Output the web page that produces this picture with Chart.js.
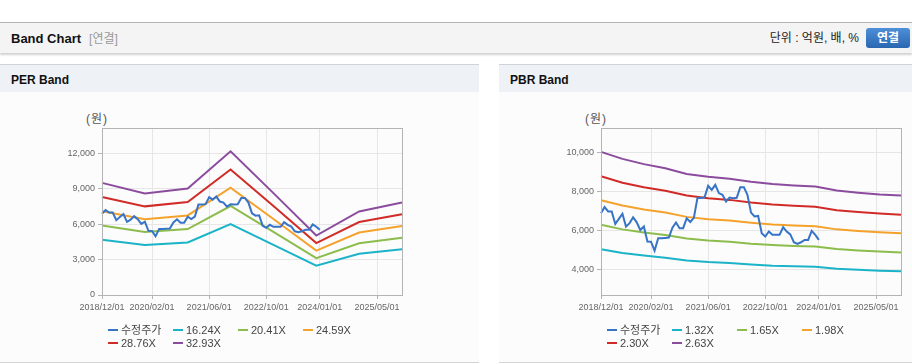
<!DOCTYPE html>
<html lang="ko">

<head>
    <meta charset="UTF-8">
    <title>Band Chart</title>
    <script src="https://cdn.jsdelivr.net/npm/chart.js"></script>
    <style>
        body {
            margin: 0;
            width: 912px;
            height: 364px;
            overflow: hidden;
            background: #fff;
            font-family: "Liberation Sans", "Noto Sans CJK KR", sans-serif;
            position: relative;
        }

        /* barra do topo */
        #topo {
            position: absolute;
            top: 22px;
            left: 0;
            width: 912px;
            height: 30px;
            border-top: 1px solid #b3b3b3;
            background: #f4f4f4;
            box-shadow: 0 2px 2px rgba(0, 0, 0, 0.18);
        }

        #topo .titulo {
            position: absolute;
            left: 11px;
            top: 0;
            line-height: 31px;
            font-size: 13px;
            font-weight: bold;
            color: #111;
        }

        #topo .titulo span {
            font-weight: normal;
            color: #999;
            font-size: 12px;
            margin-left: 8px;
        }

        #topo .unidade {
            position: absolute;
            right: 53px;
            top: 0;
            line-height: 31px;
            font-size: 12px;
            color: #222;
        }

        #topo .botao {
            position: absolute;
            left: 866px;
            top: 5px;
            width: 44px;
            height: 20px;
            line-height: 20px;
            text-align: center;
            border-radius: 3px;
            background: linear-gradient(#4d8fd8, #2b67b1);
            color: #fff;
            font-size: 12px;
            font-weight: bold;
        }

        .painel {
            position: absolute;
            top: 64px;
            height: 297px;
            border-top: 1px solid #cfd3d9;
            border-bottom: 1px solid #d5d5d5;
            background: #fcfcfc;
        }

        .painel h2 {
            margin: 0;
            height: 27px;
            line-height: 30px;
            padding-left: 11px;
            font-size: 12px;
            background: #eef1f6;
            color: #111;
        }

        .painel canvas {
            position: absolute;
            left: 0;
            top: 28px;
        }

        .won {
            position: absolute;
            left: 86px;
            top: 44px;
            font-size: 12px;
            letter-spacing: 1px;
            color: #555;
        }

        .legenda {
            position: absolute;
            left: 108px;
            top: 259px;
            width: 260px;
            display: grid;
            grid-template-columns: 65px 65px 65px 65px;
            font-size: 11px;
            color: #444;
        }

        .legenda div {
            height: 13px;
            line-height: 13px;
            white-space: nowrap;
        }

        .legenda i {
            display: inline-block;
            width: 10px;
            height: 2px;
            vertical-align: middle;
            margin-right: 3px;
            margin-top: -2px;
        }
    </style>
</head>

<body>
    <div id="topo">
        <div class="titulo">Band Chart<span>[연결]</span></div>
        <div class="unidade">단위 : 억원, 배, %</div>
        <div class="botao">연결</div>
    </div>

    <div class="painel" style="left:0; width:479px;">
        <h2>PER Band</h2>
        <div class="won">(원)</div>
        <canvas id="graficoPer" width="479" height="268"></canvas>
        <div class="legenda" id="legendaPer"></div>
    </div>

    <div class="painel" style="left:499px; width:413px;">
        <h2>PBR Band</h2>
        <div class="won">(원)</div>
        <canvas id="graficoPbr" width="413" height="268"></canvas>
        <div class="legenda" id="legendaPbr"></div>
    </div>

    <script>
        // rótulos do eixo X que aparecem no gráfico
        const xTickLabels = ['2018/12/01', '2020/02/01', '2021/06/01', '2022/10/01', '2024/01/01', '2025/05/01'];
        // valores do eixo Y
        const perYTicks = [0, 3000, 6000, 9000, 12000];
        const pbrYTicks = [4000, 6000, 8000, 10000];

        // preço ajustado mensal (2018/12 ~ 2024/01)
        const precoAjustado = [
            6890, 7200, 6980, 6980, 6340, 6600, 6860, 6200, 6380, 6680,
            6420, 6030, 6210, 5440, 5430, 4970, 5600, 5600, 5620, 5640,
            6150, 6410, 6120, 6120, 6630, 6440, 6650, 7660, 7660, 7700,
            8290, 8080, 8340, 7920, 7830, 7490, 7690, 7660, 7680, 8220,
            8220, 7830, 6920, 6720, 6750, 5860, 5690, 5950, 5780, 5780,
            5780, 6170, 5950, 5800, 5400, 5320, 5400, 5520, 5520, 5980,
            5780, 5520
        ];

        // PER band (pontos anuais)
        const perDatas = ['2018/12/01', '2019/12/01', '2020/12/01', '2021/12/01', '2022/12/01', '2023/12/01', '2024/12/01', '2025/12/01'];
        const perNomes = ['16.24X', '20.41X', '24.59X', '28.76X', '32.93X'];
        const per1624 = [4690, 4240, 4450, 6000, 4250, 2480, 3490, 3870];
        const per2041 = [5890, 5330, 5590, 7540, 5350, 3120, 4390, 4860];
        const per2459 = [7090, 6420, 6740, 9090, 6440, 3760, 5290, 5850];
        const per2876 = [8300, 7510, 7880, 10630, 7540, 4400, 6180, 6850];
        const per3293 = [9500, 8600, 9020, 12170, 8630, 5040, 7080, 7840];

        // PBR band (pontos semestrais)
        const pbrDatas = ['2018/12/01', '2019/06/01', '2019/12/01', '2020/06/01', '2020/12/01', '2021/06/01', '2021/12/01', '2022/06/01',
            '2022/12/01', '2023/06/01', '2023/12/01', '2024/06/01', '2024/12/01', '2025/06/01', '2025/12/01'];
        const pbrNomes = ['1.32X', '1.65X', '1.98X', '2.30X', '2.63X'];
        const pbr132 = [5040, 4850, 4720, 4610, 4470, 4390, 4340, 4260, 4200, 4170, 4140, 4040, 3990, 3940, 3910];
        const pbr165 = [6300, 6060, 5900, 5770, 5590, 5490, 5430, 5330, 5260, 5210, 5180, 5050, 4980, 4930, 4880];
        const pbr198 = [7550, 7280, 7080, 6920, 6700, 6580, 6510, 6400, 6310, 6260, 6220, 6060, 5980, 5910, 5860];
        const pbr230 = [8780, 8450, 8220, 8040, 7790, 7650, 7570, 7430, 7330, 7270, 7220, 7040, 6950, 6870, 6810];
        const pbr263 = [10030, 9670, 9400, 9190, 8900, 8750, 8650, 8500, 8380, 8310, 8260, 8050, 7940, 7850, 7790];

        const cores = ['#3774c6', '#1bb3c8', '#8cbd4c', '#f5a22c', '#d12b27', '#8b4c9e'];

        // categorias mensais 2018/12 ~ 2025/12
        const meses = [];
        for (let a = 2018, m = 12; a < 2025 || (a === 2025 && m <= 12);) {
            meses.push(a + '/' + String(m).padStart(2, '0') + '/01');
            m++;
            if (m > 12) { m = 1; a++; }
        }

        // moldura da área do gráfico
        const moldura = {
            id: 'moldura',
            afterDraw(chart) {
                const c = chart.ctx, a = chart.chartArea;
                c.save();
                c.strokeStyle = '#b4b4b4';
                c.lineWidth = 1;
                c.strokeRect(Math.round(a.left) + 0.5, Math.round(a.top) + 0.5, Math.round(a.right - a.left), Math.round(a.bottom - a.top));
                c.restore();
            }
        };

        function criarGrafico(idCanvas, idLegenda, datas, bandas, nomes, yMin, yMax, yTicks, padDireita) {
            const datasets = [{
                label: '수정주가',
                data: precoAjustado,
                borderColor: cores[0],
                borderWidth: 2
            }];
            for (let i = 0; i < bandas.length; i++) {
                datasets.push({
                    label: nomes[i],
                    data: bandas[i].map((v, j) => ({ x: datas[j], y: v })),
                    borderColor: cores[i + 1],
                    borderWidth: 2
                });
            }

            const chart = new Chart(document.getElementById(idCanvas), {
                type: 'line',
                data: { labels: meses, datasets: datasets },
                options: {
                    responsive: false,
                    animation: false,
                    devicePixelRatio: 1,
                    layout: { padding: { left: 52, top: 35, right: padDireita, bottom: 46 } },
                    elements: { point: { radius: 0 }, line: { tension: 0 } },
                    plugins: { legend: { display: false }, tooltip: { enabled: false } },
                    scales: {
                        x: {
                            afterFit(s) { s.height = 20; },
                            afterBuildTicks(s) {
                                s.ticks = s.ticks.filter(t => xTickLabels.includes(meses[t.value]));
                            },
                            ticks: {
                                autoSkip: false,
                                maxRotation: 0,
                                padding: 3,
                                color: '#666',
                                font: { family: 'Liberation Sans', size: 9 }
                            },
                            grid: { color: '#e6e6e6', tickColor: '#b4b4b4', tickLength: 4 },
                            border: { color: '#b4b4b4' }
                        },
                        y: {
                            min: yMin,
                            max: yMax,
                            afterFit(s) { s.width = 50; },
                            afterBuildTicks(s) {
                                s.ticks = yTicks.map(v => ({ value: v }));
                            },
                            ticks: {
                                autoSkip: false,
                                padding: 3,
                                color: '#666',
                                font: { family: 'Liberation Sans', size: 9 },
                                callback: v => v.toLocaleString('en-US')
                            },
                            grid: { color: '#e6e6e6', tickColor: '#b4b4b4', tickLength: 4 },
                            border: { color: '#b4b4b4' }
                        }
                    }
                },
                plugins: [moldura]
            });

            // legenda em html
            const leg = document.getElementById(idLegenda);
            chart.data.datasets.forEach(d => {
                const item = document.createElement('div');
                item.innerHTML = '<i style="background:' + d.borderColor + '"></i>' + d.label;
                leg.appendChild(item);
            });
        }

        criarGrafico('graficoPer', 'legendaPer', perDatas, [per1624, per2041, per2459, per2876, per3293], perNomes, 0, 14150, perYTicks, 77);
        criarGrafico('graficoPbr', 'legendaPbr', pbrDatas, [pbr132, pbr165, pbr198, pbr230, pbr263], pbrNomes, 2700, 11250, pbrYTicks, 11);
    </script>
</body>

</html>
